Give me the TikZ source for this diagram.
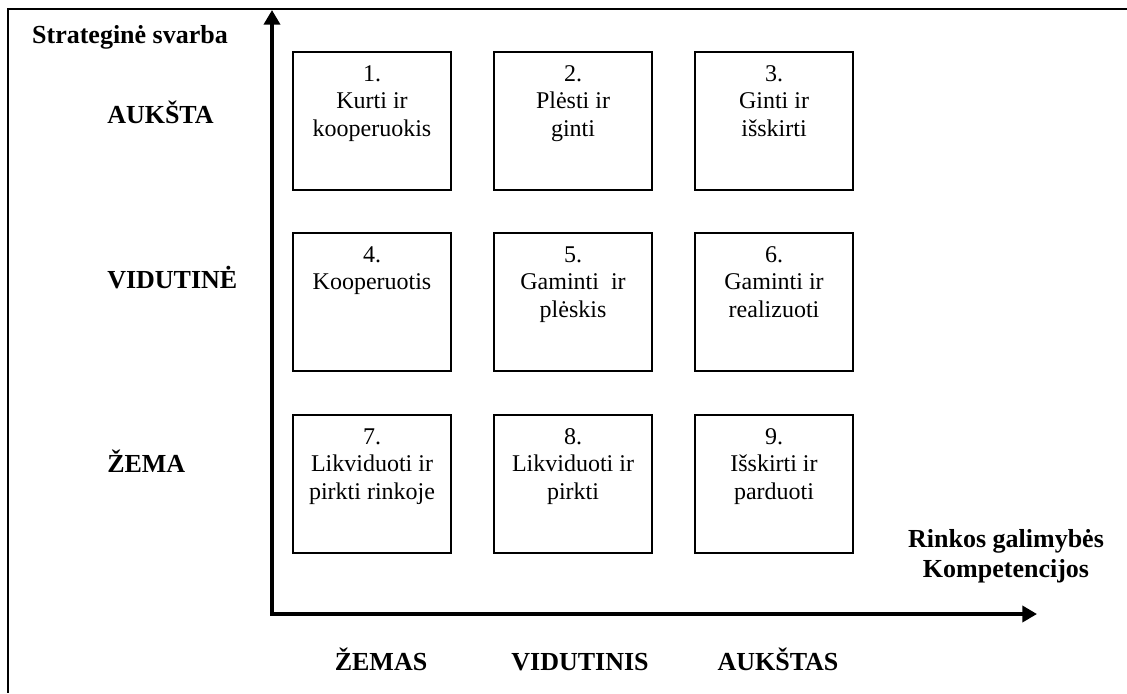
\documentclass[tikz,border=0pt]{standalone}
\usepackage{fontspec}
\setmainfont{Liberation Serif}
\usetikzlibrary{arrows.meta}

\begin{document}
\begin{tikzpicture}
  [x=0.75pt,y=-0.75pt,
   cell/.style={draw,line width=2pt,minimum width=118.7pt,minimum height=103.7pt,inner sep=0pt},
   celltext/.style={anchor=north,inner sep=0pt,align=center,font=\fontsize{18}{20.6}\selectfont},
   lbl/.style={anchor=base,inner sep=0pt,font=\fontsize{19.5}{22.5}\selectfont\bfseries},
   axis/.style={line width=3pt,{Triangle[length=11pt,width=12pt]}-{Triangle[length=11pt,width=12pt]}}]
  \useasboundingbox (0,0) rectangle (1127,693);

  % frame, only top and left
  \coordinate (tl) at (8,9);
  \coordinate (tr) at (1127,9);
  \coordinate (bl) at (8,693);
  \draw[line width=1.5pt] (tr) -- (tl) -- (bl);

  % axes
  \coordinate (o) at (272,614);
  \coordinate (ytip) at (272,10);
  \coordinate (xtip) at (1037,614);
  \draw[axis] (ytip) -- (o) -- (xtip);

  % matrix cells
  \foreach \n/\x/\y/\t in {1/372/121/{Kurti ir\\kooperuokis},
                            2/573/121/{Plėsti ir\\ginti},
                            3/774/121/{Ginti ir\\išskirti},
                            4/372/302/{Kooperuotis},
                            5/573/302/{Gaminti~ ir\\plėskis},
                            6/774/302/{Gaminti ir\\realizuoti},
                            7/372/484/{Likviduoti ir\\pirkti rinkoje},
                            8/573/484/{Likviduoti ir\\pirkti},
                            9/774/484/{Išskirti ir\\parduoti}}
  {
    \node[cell] (c\n) at (\x,\y) {};
    \node[celltext] (t\n) at ([yshift=-11pt]c\n.north) {\n.\\\t};
  }

  % axis labels
  \node[lbl] (ylab) at (130,43) {Strateginė svarba};
  \node[lbl,anchor=base west] (r1) at (107,123) {AUKŠTA};
  \node[lbl,anchor=base west] (r2) at (107,288) {VIDUTINĖ};
  \node[lbl,anchor=base west] (r3) at (107,472) {ŽEMA};

  \node[lbl] (k1) at (381,670) {ŽEMAS};
  \node[lbl] (k2) at (580,670) {VIDUTINIS};
  \node[lbl] (k3) at (778,670) {AUKŠTAS};

  \node[lbl] (xlab1) at (1006,547) {Rinkos galimybės};
  \node[lbl] (xlab2) at (1006,577) {Kompetencijos};

\end{tikzpicture}
\end{document}
